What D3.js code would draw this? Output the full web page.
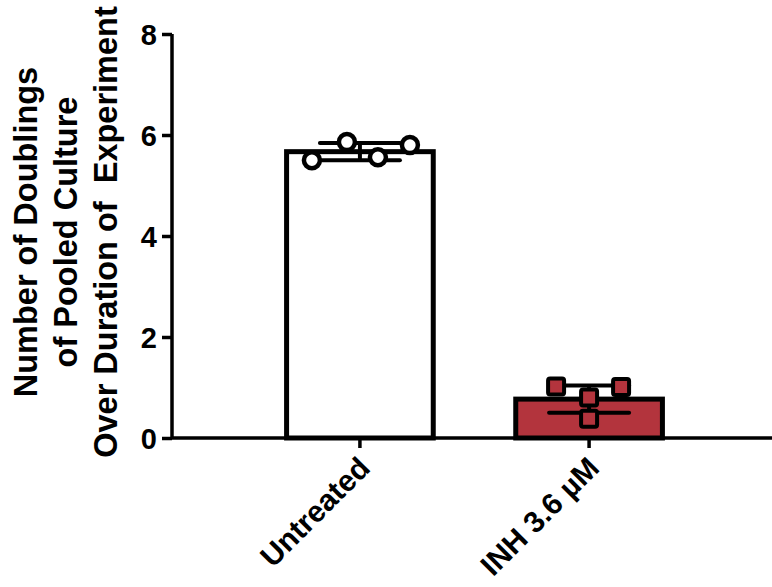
<!DOCTYPE html>
<html>
<head>
<meta charset="utf-8">
<script src="https://cdn.jsdelivr.net/npm/d3@7"></script>
<style>
  html, body { margin: 0; padding: 0; background: #fff; }
  svg { display: block; }
  text { font-family: "Liberation Sans", Arial, sans-serif; font-weight: bold; fill: #000; }
</style>
</head>
<body>
<svg id="chart" width="772" height="587"></svg>
<script>
// ---- data ----
const categories = ["Untreated", "INH 3.6 µM"];
const means = [5.67, 0.77];
const sds = [0.17, 0.27];
const untreatedPoints = [5.50, 5.86, 5.56, 5.80];
const inhPoints = [1.02, 0.80, 1.01, 0.38];
const yTicks = [0, 2, 4, 6, 8];
const titleLines = ["Number of Doublings", "of Pooled Culture", "Over Duration of  Experiment"];

// ---- layout ----
const svg = d3.select("#chart");
const y = d3.scaleLinear().domain([0, 8]).range([438, 34]);
const x = d3.scaleBand().domain(categories).range([172, 777]).paddingInner(0.36).paddingOuter(0.5);
const fills = ["#ffffff", "#b3343d"];
const shapes = ["circle", "square"];
const spreadX = [[-48, -13, 18, 50], [-33, 0, 32, 0]];
const allPoints = [untreatedPoints, inhPoints];

// bars
svg.selectAll("rect.bar").data(categories).enter().append("rect")
  .attr("class", "bar")
  .attr("x", d => x(d))
  .attr("y", (d, i) => y(means[i]))
  .attr("width", x.bandwidth())
  .attr("height", (d, i) => y(0) - y(means[i]))
  .attr("fill", (d, i) => fills[i])
  .attr("stroke", "#000")
  .attr("stroke-width", 5);

// error bars
categories.forEach((c, i) => {
  const cx = x(c) + x.bandwidth() / 2;
  const g = svg.append("g");
  g.append("line").attr("x1", cx).attr("x2", cx)
    .attr("y1", y(means[i] - sds[i])).attr("y2", y(means[i] + sds[i]))
    .attr("stroke", "#000").attr("stroke-width", 4);
  [means[i] - sds[i], means[i] + sds[i]].forEach(v => {
    g.append("line").attr("x1", cx - 40).attr("x2", cx + 40)
      .attr("y1", y(v)).attr("y2", y(v))
      .attr("stroke", "#000").attr("stroke-width", 4).attr("stroke-linecap", "round");
  });
});

// points
categories.forEach((c, i) => {
  const cx = x(c) + x.bandwidth() / 2;
  allPoints[i].forEach((v, j) => {
    const px = cx + spreadX[i][j];
    if (shapes[i] === "circle") {
      svg.append("circle").attr("cx", px).attr("cy", y(v)).attr("r", 8)
        .attr("fill", "#fff").attr("stroke", "#000").attr("stroke-width", 4.5);
    } else {
      svg.append("rect").attr("x", px - 8).attr("y", y(v) - 8)
        .attr("width", 16).attr("height", 16).attr("rx", 2)
        .attr("fill", fills[i]).attr("stroke", "#000").attr("stroke-width", 4);
    }
  });
});

// y axis
const yAxis = d3.axisLeft(y).tickValues(yTicks).tickSize(10).tickPadding(5).tickFormat(d3.format("d"));
const gy = svg.append("g").attr("transform", "translate(172,0)").call(yAxis);
gy.select(".domain").attr("stroke-width", 3.5).attr("d", `M0,${y(8)}V${y(0)}`);
gy.selectAll(".tick line").attr("stroke-width", 3.5);
gy.selectAll(".tick text").style("font-size", "29px").attr("dy", "0.36em");

// x axis
const xAxis = d3.axisBottom(x).tickSize(10).tickPadding(8);
const gx = svg.append("g").attr("transform", `translate(0,${y(0)})`).call(xAxis);
gx.select(".domain").attr("stroke-width", 3.5).attr("d", "M172,0H772");
gx.selectAll(".tick line").attr("stroke-width", 3.5);
gx.selectAll(".tick text")
  .style("font-size", "30px")
  .attr("text-anchor", "end")
  .attr("dy", "0")
  .attr("transform", "translate(-1,19) rotate(-45)");

// y title
const title = svg.append("text")
  .attr("transform", "translate(0,232) rotate(-90)")
  .attr("text-anchor", "middle")
  .style("font-size", "32.5px");
titleLines.forEach((t, i) => {
  title.append("tspan").attr("x", 0).attr("y", 37 + i * 40).text(t).attr("xml:space", "preserve");
});
</script>
</body>
</html>
